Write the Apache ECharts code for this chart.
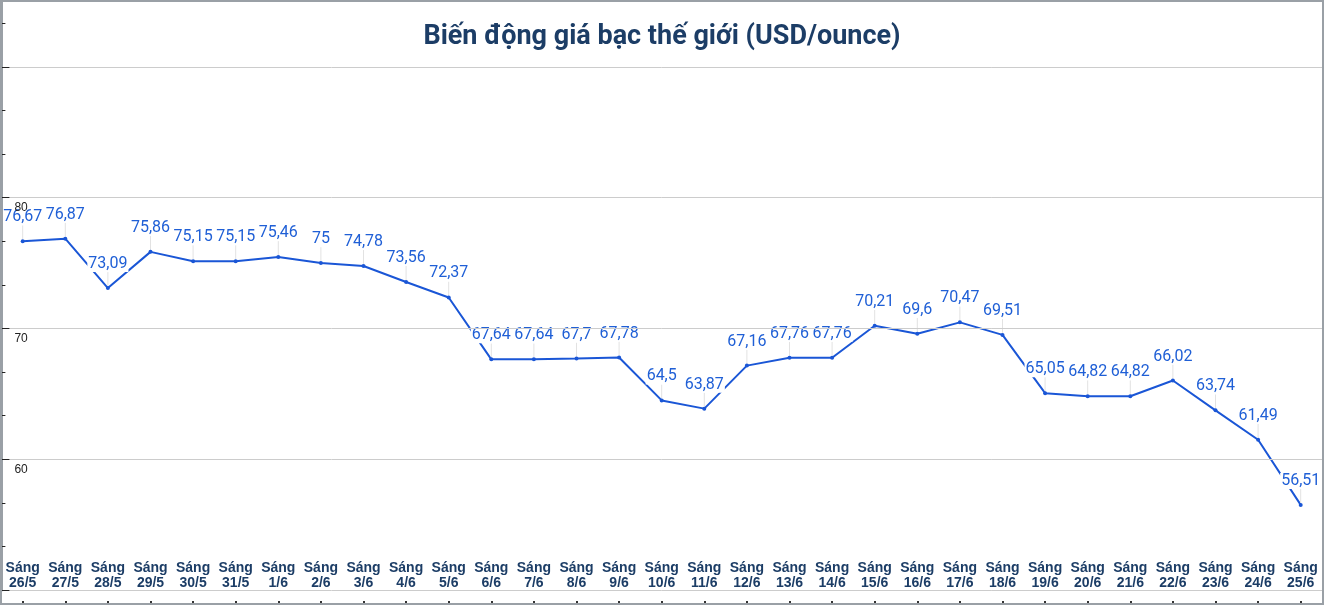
<!DOCTYPE html>
<html>
<head>
<meta charset="utf-8">
<title>Biến động giá bạc thế giới</title>
<script src="https://cdn.jsdelivr.net/npm/echarts@6/dist/echarts.min.js"></script>
<style>
  html, body { margin: 0; padding: 0; background: #fff; }
  #chart { width: 1324px; height: 605px; }
</style>
</head>
<body>
<div id="chart"></div>
<script>
// ngày lấy giá (buổi sáng)
const days = ['26/5', '27/5', '28/5', '29/5', '30/5', '31/5',
  '1/6', '2/6', '3/6', '4/6', '5/6', '6/6', '7/6', '8/6', '9/6', '10/6',
  '11/6', '12/6', '13/6', '14/6', '15/6', '16/6', '17/6', '18/6', '19/6',
  '20/6', '21/6', '22/6', '23/6', '24/6', '25/6'];

// giá bạc USD/ounce
const prices = [76.67, 76.87, 73.09, 75.86, 75.15, 75.15, 75.46, 75, 74.78,
  73.56, 72.37, 67.64, 67.64, 67.7, 67.78, 64.5, 63.87, 67.16, 67.76, 67.76,
  70.21, 69.6, 70.47, 69.51, 65.05, 64.82, 64.82, 66.02, 63.74, 61.49, 56.51];

const yTickLabels = [60, 70, 80];

const categories = days.map(d => 'Sáng\n' + d);

const chart = echarts.init(document.getElementById('chart'));

const yMin = 50, yMax = 95;

const option = {
  backgroundColor: '#fff',
  animation: false,
  title: {
    text: 'Biến động giá bạc thế giới (USD/ounce)',
    left: 'center',
    top: 19,
    textStyle: {
      fontFamily: 'Roboto',
      fontSize: 27,
      fontWeight: 'bold',
      color: '#1c3d66'
    }
  },
  grid: { left: 1.4, right: 2, top: 1.6, bottom: 15 },
  xAxis: {
    type: 'category',
    data: categories,
    offset: 13,
    axisLine: { show: false },
    axisTick: {
      show: true, inside: true, length: 2, alignWithLabel: true,
      lineStyle: { color: '#333', width: 2 }
    },
    axisLabel: {
      inside: true,
      margin: 12,
      interval: 0,
      fontFamily: 'Liberation Sans, Arial',
      fontSize: 14,
      fontWeight: 'bold',
      lineHeight: 15,
      color: '#1c3d66'
    }
  },
  yAxis: [{
    type: 'value',
    min: yMin,
    max: yMax,
    interval: 10,
    z: 10,
    axisLine: { show: true, lineStyle: { color: '#9aa0a6', width: 3 } },
    axisTick: { show: true, inside: true, length: 8, lineStyle: { color: '#222' } },
    splitLine: { lineStyle: { color: '#cccccc', width: 1 } },
    axisLabel: {
      inside: true,
      margin: 13,
      verticalAlign: 'top',
      padding: [4, 0, 0, 0],
      fontFamily: 'Liberation Sans, Arial',
      fontSize: 12,
      color: '#222',
      formatter: v => yTickLabels.includes(v) ? String(v) : ''
    }
  }, {
    // vạch phụ cách nhau 10/3
    type: 'value',
    position: 'left',
    min: yMin,
    max: yMax,
    interval: 10 / 3,
    z: 10,
    axisLine: { show: false },
    axisTick: { show: true, inside: true, length: 4, lineStyle: { color: '#222' } },
    splitLine: { show: false },
    axisLabel: { show: false }
  }],
  graphic: [{
    type: 'rect',
    z: 100,
    silent: true,
    shape: { x: 1, y: 1, width: 1322, height: 603 },
    style: { fill: 'none', stroke: '#9aa0a6', lineWidth: 2 }
  }],
  series: [{
    type: 'line',
    data: prices,
    symbol: 'circle',
    symbolSize: 4,
    lineStyle: { color: '#1a56d6', width: 2 },
    itemStyle: { color: '#1a56d6' },
    label: {
      show: true,
      position: 'top',
      distance: 2,
      fontFamily: 'Roboto',
      fontSize: 16,
      color: '#1f5fd6',
      backgroundColor: '#fff',
      padding: [0, 1],
      formatter: p => String(p.value).replace('.', ',')
    },
    labelLayout: { dy: -12 },
    labelLine: { show: true, lineStyle: { color: '#e2e2e2', width: 1 } }
  }]
};

chart.setOption(option);
</script>
</body>
</html>
